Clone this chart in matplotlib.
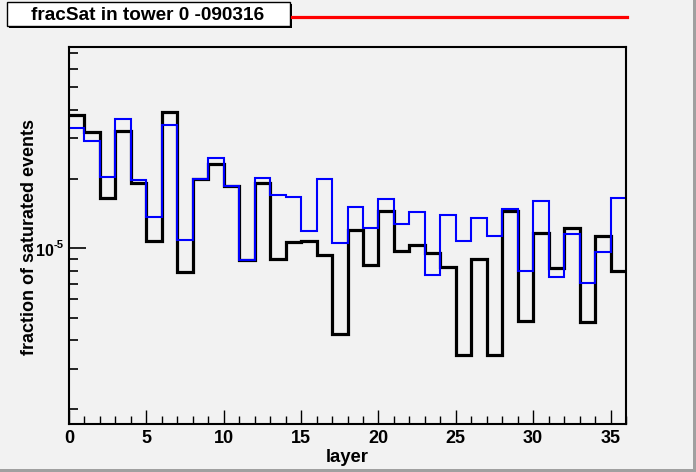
import matplotlib
matplotlib.use("Agg")
import matplotlib.pyplot as plt
import matplotlib.transforms as mtransforms
import numpy as np
from matplotlib.patches import Rectangle
from matplotlib.lines import Line2D
from matplotlib.ticker import FixedLocator, MultipleLocator, NullFormatter

plt.rcParams["font.family"] = ["Liberation Sans", "DejaVu Sans"]
plt.rcParams["font.weight"] = "bold"

# layer bins 0..36
layer_edges = np.arange(0, 37)

# black histogram
frac_black = [3.78e-5, 3.18e-5, 1.65e-5, 3.22e-5, 1.92e-5, 1.08e-5, 3.92e-5, 7.87e-6,
              1.99e-5, 2.32e-5, 1.86e-5, 8.90e-6, 1.92e-5, 8.96e-6, 1.06e-5, 1.08e-5,
              9.35e-6, 4.24e-6, 1.20e-5, 8.49e-6, 1.45e-5, 9.70e-6, 1.03e-5, 9.57e-6,
              8.27e-6, 3.44e-6, 8.96e-6, 3.44e-6, 1.45e-5, 4.86e-6, 1.16e-5, 8.19e-6,
              1.22e-5, 4.80e-6, 1.13e-5, 7.95e-6]

# blue histogram
frac_blue = [3.33e-5, 2.92e-5, 2.04e-5, 3.63e-5, 1.98e-5, 1.37e-5, 3.44e-5, 1.09e-5,
             1.99e-5, 2.47e-5, 1.87e-5, 8.93e-6, 2.02e-5, 1.70e-5, 1.67e-5, 1.19e-5,
             2.00e-5, 1.05e-5, 1.51e-5, 1.23e-5, 1.64e-5, 1.28e-5, 1.44e-5, 7.64e-6,
             1.40e-5, 1.08e-5, 1.36e-5, 1.13e-5, 1.48e-5, 8.00e-6, 1.61e-5, 7.51e-6,
             1.15e-5, 7.10e-6, 9.64e-6, 1.66e-5]

title = "fracSat in tower 0 -090316"
y_major = 1e-5

W, H = 696, 472
fig = plt.figure(figsize=(W / 100, H / 100), dpi=100)
fig.patch.set_facecolor("#f2f2f2")

ax = fig.add_axes([69 / W, 1 - 424 / H, (626 - 69) / W, (424 - 46.7) / H])
ax.set_facecolor("#f2f2f2")

ax.stairs(frac_black, layer_edges, baseline=None, color="black", linewidth=2.3)
ax.stairs(frac_blue, layer_edges, baseline=None, color="#0000ff", linewidth=1.5)

ax.set_yscale("log")
ax.set_xlim(0, 36)
ax.set_ylim(1.73e-6, 7.49e-5)

# x ticks
ax.xaxis.set_major_locator(MultipleLocator(5))
ax.xaxis.set_minor_locator(MultipleLocator(1))
ax.tick_params(axis="x", which="major", direction="in", length=10, width=1, labelsize=13, pad=4)
ax.tick_params(axis="x", which="minor", direction="in", length=5.5, width=1)

# y ticks (label 10^-5 drawn by hand below, ROOT style)
minor_y = [m * 1e-6 for m in range(2, 10)] + [m * 1e-5 for m in range(2, 8)]
ax.yaxis.set_major_locator(FixedLocator([y_major]))
ax.yaxis.set_major_formatter(NullFormatter())
ax.yaxis.set_minor_locator(FixedLocator(minor_y))
ax.yaxis.set_minor_formatter(NullFormatter())
ax.tick_params(axis="y", which="major", direction="in", length=12.5, width=1.2)
ax.tick_params(axis="y", which="minor", direction="in", length=6.5, width=1.2)

for s in ax.spines.values():
    s.set_linewidth(1.5)
    s.set_color("black")

for lab in ax.get_xticklabels():
    lab.set_fontweight("bold")

fig.text(347.5 / W, 1 - 457 / H, "layer", ha="center", va="center", fontsize=13.3, fontweight="bold")
fig.text(30 / W, 1 - 237 / H, "fraction of saturated events", ha="center", va="center",
         rotation=90, fontsize=13, fontweight="bold")

# 10^-5 label
trans = mtransforms.blended_transform_factory(fig.transFigure, ax.transData)
off = mtransforms.ScaledTranslation(0, -3.5 / 100, fig.dpi_scale_trans)
ax.text(53.5 / W, y_major, "10", transform=trans + off, ha="right", va="center",
        fontsize=11.5, fontweight="bold")
off2 = mtransforms.ScaledTranslation(0, 3 / 100, fig.dpi_scale_trans)
ax.text(54 / W, y_major, "-5", transform=trans + off2, ha="left", va="center",
        fontsize=8, fontweight="bold")

# title box with shadow
fig.patches.append(Rectangle((9 / W, 1 - 28 / H), 283 / W, 24 / H, transform=fig.transFigure,
                             facecolor="black", edgecolor="none"))
fig.patches.append(Rectangle((7 / W, 1 - 26 / H), 283 / W, 23.5 / H, transform=fig.transFigure,
                             facecolor="white", edgecolor="black", linewidth=1))
fig.text(148 / W, 1 - 15 / H, title, ha="center", va="center", fontsize=13.7, fontweight="bold")

# red line at top
fig.add_artist(Line2D([292 / W, 627 / W], [1 - 17.3 / H, 1 - 17.3 / H], transform=fig.transFigure,
                      color="#ff0000", linewidth=2.3))

# canvas border
fig.patches.append(Rectangle((693 / W, 0), 3 / W, 1, transform=fig.transFigure,
                             facecolor="#a0a0a0", edgecolor="none"))
fig.patches.append(Rectangle((0, 0), 1, 3 / H, transform=fig.transFigure,
                             facecolor="#a0a0a0", edgecolor="none"))

fig.savefig("out.png", dpi=100, facecolor=fig.get_facecolor())
